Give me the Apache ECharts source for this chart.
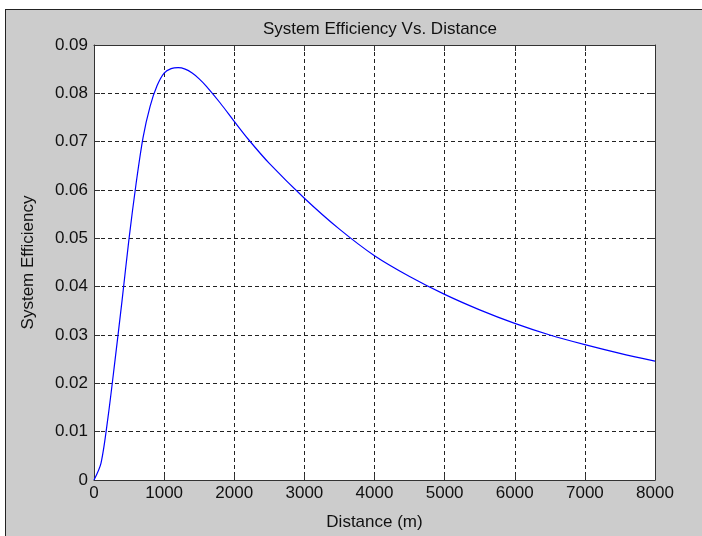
<!DOCTYPE html>
<html>
<head>
<meta charset="utf-8">
<script src="https://cdn.jsdelivr.net/npm/echarts@6/dist/echarts.min.js"></script>
<style>
  html, body { margin: 0; padding: 0; background: #ffffff; }
  #frame { position: absolute; left: 5px; top: 9px; width: 720px; height: 560px;
           background: #cccccc; border-left: 1px solid #222; border-top: 1px solid #222; }
  #chart { position: absolute; left: 0; top: 0; width: 702px; height: 536px; }
</style>
</head>
<body>
<div id="frame"></div>
<div id="chart"></div>
<script>
// Data
const titleText = 'System Efficiency Vs. Distance';
const xName = 'Distance (m)';
const yName = 'System Efficiency';
const distance = [0, 100, 200, 300, 400, 500, 600, 700, 800, 900, 1000, 1100, 1200, 1300, 1400, 1500, 1600, 1800, 2000, 2200, 2500, 3000, 3500, 4000, 4500, 5000, 5500, 6000, 6500, 7000, 7500, 8000];
const efficiency = [0, 0.0035, 0.0130, 0.0248, 0.0371, 0.0500, 0.0613, 0.0709, 0.0773, 0.0816, 0.0842, 0.0851, 0.0853, 0.0850, 0.0842, 0.0830, 0.0815, 0.0780, 0.0742, 0.0705, 0.0655, 0.0583, 0.0519, 0.0464, 0.0421, 0.0384, 0.0352, 0.0324, 0.0300, 0.0280, 0.0262, 0.0246];
const xTicks = { min: 0, max: 8000, interval: 1000 };
const yTicks = { min: 0, max: 0.09, interval: 0.01 };

const seriesData = distance.map((d, i) => [d, efficiency[i]]);
const font = 'Liberation Sans, Arial, sans-serif';
const textColor = '#111111';
const boxColor = '#333333';

const chart = echarts.init(document.getElementById('chart'), null, { renderer: 'canvas' });
const tickStyle = { show: true, inside: true, length: 6, lineStyle: { color: boxColor, width: 1 } };
const gridLine = { show: true, lineStyle: { color: '#222222', width: 1, type: [4, 3] } };

chart.setOption({
  backgroundColor: 'transparent',
  animation: false,
  title: {
    text: titleText, left: 375, top: 16, textAlign: 'center',
    textStyle: { fontFamily: font, fontSize: 17, fontWeight: 'normal', color: textColor }
  },
  grid: { left: 94, right: 47, top: 45, bottom: 49, show: true, backgroundColor: '#ffffff', borderWidth: 0 },
  xAxis: [{
    type: 'value', position: 'bottom', min: xTicks.min, max: xTicks.max, interval: xTicks.interval,
    name: xName, nameLocation: 'middle', nameGap: 34,
    nameTextStyle: { fontFamily: font, fontSize: 17, color: textColor },
    axisLine: { show: true, onZero: false, lineStyle: { color: boxColor, width: 1 } },
    axisTick: tickStyle,
    axisLabel: { fontFamily: font, fontSize: 17, color: textColor, margin: 5, showMinLabel: true, showMaxLabel: true,
      formatter: v => String(Math.round(v)) },
    splitLine: gridLine
  }, {
    type: 'value', position: 'top', min: xTicks.min, max: xTicks.max, interval: xTicks.interval,
    axisLine: { show: true, onZero: false, lineStyle: { color: boxColor, width: 1 } },
    axisTick: tickStyle, axisLabel: { show: false }, splitLine: { show: false }
  }],
  yAxis: [{
    type: 'value', position: 'left', min: yTicks.min, max: yTicks.max, interval: yTicks.interval,
    name: yName, nameLocation: 'middle', nameGap: 57, nameRotate: 90,
    nameTextStyle: { fontFamily: font, fontSize: 17, color: textColor },
    axisLine: { show: true, onZero: false, lineStyle: { color: boxColor, width: 1 } },
    axisTick: tickStyle,
    axisLabel: { fontFamily: font, fontSize: 17, color: textColor, margin: 6,
      formatter: v => (Math.abs(v) < 1e-9 ? '0' : v.toFixed(2)) },
    splitLine: gridLine
  }, {
    type: 'value', position: 'right', min: yTicks.min, max: yTicks.max, interval: yTicks.interval,
    axisLine: { show: true, onZero: false, lineStyle: { color: boxColor, width: 1 } },
    axisTick: tickStyle, axisLabel: { show: false }, splitLine: { show: false }
  }],
  series: [{
    type: 'line', xAxisIndex: 0, yAxisIndex: 0, data: seriesData,
    smooth: 0.3, showSymbol: false, symbol: 'none',
    lineStyle: { color: '#0000ff', width: 1.2 }
  }]
});
</script>
</body>
</html>
